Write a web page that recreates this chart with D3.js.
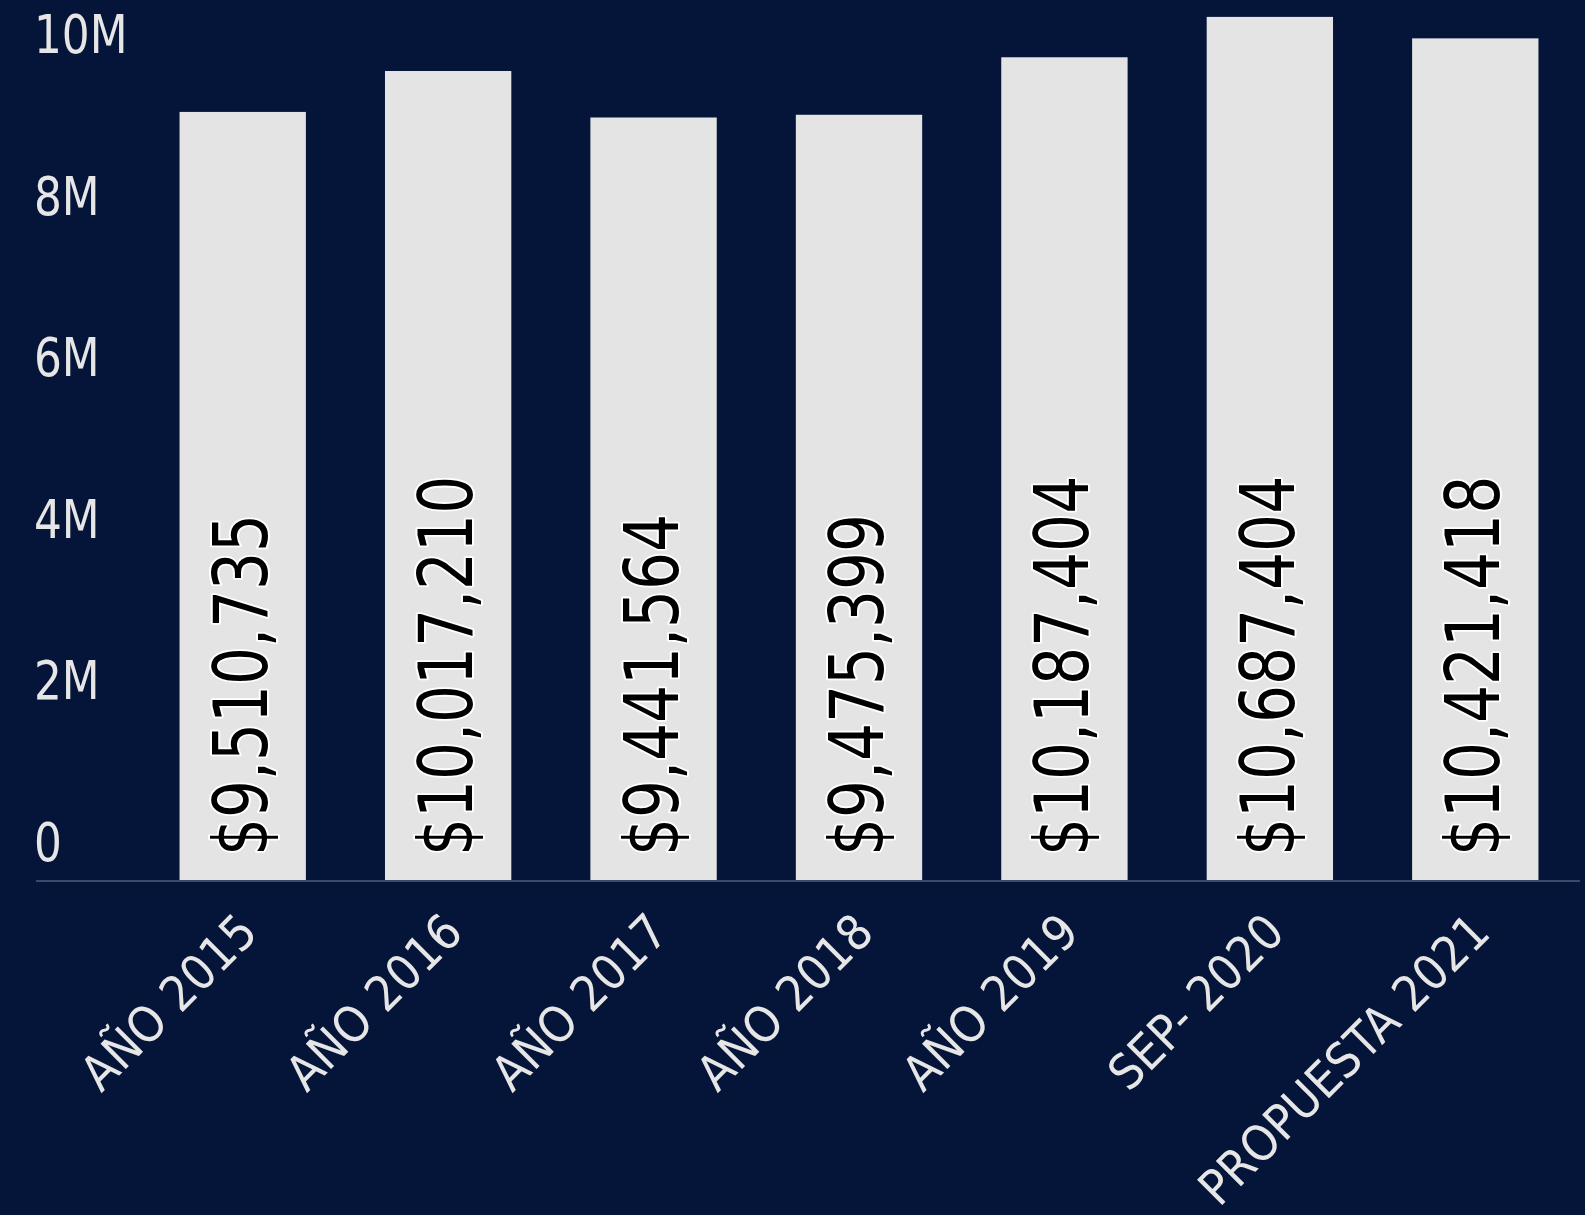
<!DOCTYPE html>
<html>
<head>
<meta charset="utf-8">
<script src="https://cdn.jsdelivr.net/npm/d3@7"></script>
<style>
  html, body { margin: 0; padding: 0; background: #051439; }
  #main { width: 1585px; height: 1215px; }
</style>
</head>
<body>
<div id="main"></div>
<script>
var categories = ["AÑO 2015", "AÑO 2016", "AÑO 2017", "AÑO 2018", "AÑO 2019", "SEP- 2020", "PROPUESTA 2021"];
var values = [9510735, 10017210, 9441564, 9475399, 10187404, 10687404, 10421418];
var yTicks = [0, 2000000, 4000000, 6000000, 8000000, 10000000];
var yTickLabels = ["0", "2M", "4M", "6M", "8M", "10M"];

var width = 1585, height = 1215;
var font = "'DejaVu Sans Condensed', 'DejaVu Sans', sans-serif";

var svg = d3.select("#main")
        .append("svg")
        .attr("width", width)
        .attr("height", height);

svg.append("rect")
    .attr("width", width)
    .attr("height", height)
    .attr("fill", "#051439");

var x = d3.scaleBand()
        .domain(categories)
        .range([140, 1578])
        .paddingInner(0.385)
        .paddingOuter(0.1925);

var y = d3.scaleLinear()
        .domain([0, 10000000])
        .range([880, 72.4]);

// y tick labels sit above their (invisible) grid positions
svg.append("g")
    .selectAll("text")
    .data(yTicks)
    .enter()
    .append("text")
    .attr("transform", function(d) {
        return "translate(34," + (y(d) - 19) + ") scale(0.91,1)";
    })
    .attr("fill", "#e6e6e6")
    .style("font-family", font)
    .style("font-size", "53.5px")
    .text(function(d, i) { return yTickLabels[i]; });

svg.append("g")
    .selectAll("rect")
    .data(values)
    .enter()
    .append("rect")
    .attr("x", function(d, i) { return x(categories[i]); })
    .attr("y", function(d) { return y(d); })
    .attr("width", x.bandwidth())
    .attr("height", function(d) { return y(0) - y(d); })
    .attr("fill", "#e4e4e4");

svg.append("line")
    .attr("x1", 36)
    .attr("x2", 1580)
    .attr("y1", y(0) + 1)
    .attr("y2", y(0) + 1)
    .attr("stroke", "#3b4a6b")
    .attr("stroke-width", 2);

// value labels, rotated, black with white halo
svg.append("g")
    .selectAll("text")
    .data(values)
    .enter()
    .append("text")
    .attr("transform", function(d, i) {
        var cx = x(categories[i]) + x.bandwidth() / 2;
        return "translate(" + (cx + 24) + "," + 856 + ") rotate(-90) scale(0.886,1)";
    })
    .attr("text-anchor", "start")
    .attr("fill", "#000")
    .attr("stroke", "#fff")
    .attr("stroke-width", 4)
    .attr("stroke-linejoin", "round")
    .style("paint-order", "stroke")
    .style("font-family", font)
    .style("font-size", "75px")
    .text(function(d) { return "$" + d3.format(",")(d); });

svg.append("g")
    .selectAll("text")
    .data(categories)
    .enter()
    .append("text")
    .attr("transform", function(d) {
        var cx = x(d) + x.bandwidth() / 2;
        return "translate(" + (cx + 17) + "," + 935 + ") rotate(-45)";
    })
    .attr("text-anchor", "end")
    .attr("fill", "#e6e6e6")
    .style("font-family", font)
    .style("font-size", "49px")
    .text(function(d) { return d; });
</script>
</body>
</html>
